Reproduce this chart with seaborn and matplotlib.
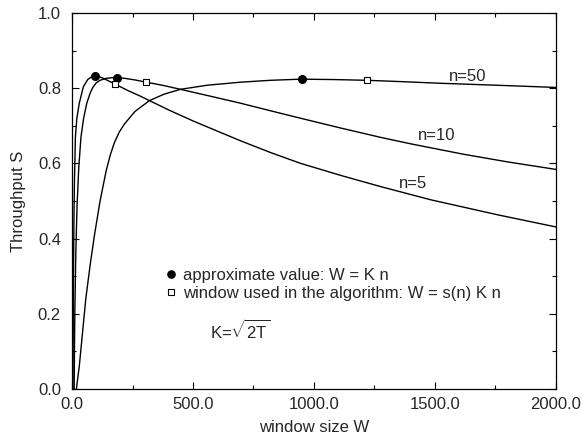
import numpy as np
import pandas as pd
import matplotlib
matplotlib.use('Agg')
import matplotlib.pyplot as plt
import seaborn as sns
from matplotlib.lines import Line2D
from matplotlib.ticker import MultipleLocator, FormatStrFormatter

# values
w_n5 = [4, 5, 6, 8, 10, 14, 20, 30, 47, 65, 80, 93, 110, 130, 178, 230, 282, 320,
        400, 500, 600, 697, 820, 945, 1111, 1277, 1484, 1761, 2000]
s_n5 = [0.0, 0.15, 0.3, 0.45, 0.55, 0.67, 0.72, 0.76, 0.804, 0.823, 0.83, 0.832,
        0.831, 0.826, 0.811, 0.794, 0.779, 0.767, 0.742, 0.713, 0.686, 0.660,
        0.629, 0.600, 0.568, 0.538, 0.503, 0.463, 0.431]

w_n10 = [9, 10, 12, 16, 21, 28, 37, 48, 61, 75, 86, 100, 116, 140, 165, 188, 220,
         260, 307, 380, 448, 570, 697, 820, 945, 1111, 1277, 1400, 1526, 1621,
         1800, 2000]
s_n10 = [0.0, 0.10, 0.22, 0.37, 0.49, 0.59, 0.67, 0.72, 0.76, 0.787, 0.802, 0.814,
         0.821, 0.826, 0.828, 0.828, 0.826, 0.822, 0.816, 0.807, 0.797, 0.779,
         0.760, 0.740, 0.720, 0.694, 0.669, 0.652, 0.636, 0.624, 0.604, 0.584]

w_n50 = [18, 24, 30, 42, 57, 75, 93, 116, 141, 158, 175, 195, 217, 260, 320, 380,
         448, 560, 697, 820, 945, 1080, 1218, 1380, 1526, 1750, 2000]
s_n50 = [0.0, 0.03, 0.06, 0.14, 0.24, 0.33, 0.41, 0.50, 0.58, 0.622, 0.655, 0.683,
         0.705, 0.738, 0.767, 0.784, 0.797, 0.808, 0.816, 0.821, 0.824, 0.823,
         0.821, 0.817, 0.813, 0.808, 0.802]

# W = K n (filled circles) and W = s(n) K n (open squares)
circle_w = [93, 188, 949]
circle_s = [0.832, 0.828, 0.824]
square_w = [178, 307, 1218]
square_s = [0.811, 0.816, 0.821]

curve_names = ['n=5', 'n=10', 'n=50']
label_w = [1408, 1509, 1636]
label_s = [0.547, 0.673, 0.832]

sns.set_style('ticks')
plt.rcParams['font.family'] = ['Liberation Sans', 'DejaVu Sans']
plt.rcParams['mathtext.fontset'] = 'custom'
plt.rcParams['mathtext.rm'] = 'Liberation Sans'
plt.rcParams['mathtext.it'] = 'Liberation Sans'

FS = 12

fig, ax = plt.subplots(figsize=(5.84, 4.42), dpi=100)
fig.subplots_adjust(left=0.1233, right=0.952, bottom=0.1199, top=0.9706)

for w, s in [(w_n5, s_n5), (w_n10, s_n10), (w_n50, s_n50)]:
    df = pd.DataFrame({'W': w, 'S': s})
    sns.lineplot(data=df, x='W', y='S', color='black', linewidth=1.0,
                 sort=False, estimator=None, ax=ax)

ax.plot(circle_w, circle_s, 'o', color='black', markersize=5.5, zorder=5)
ax.plot(square_w, square_s, 's', markerfacecolor='white', markeredgecolor='black',
        markeredgewidth=0.8, markersize=4.2, zorder=5)

for name, x, y in zip(curve_names, label_w, label_s):
    ax.text(x, y, name, fontsize=FS, ha='center', va='center')

ax.set_xlim(0, 2000)
ax.set_ylim(0, 1)
ax.xaxis.set_major_locator(MultipleLocator(500))
ax.xaxis.set_minor_locator(MultipleLocator(250))
ax.yaxis.set_major_locator(MultipleLocator(0.2))
ax.yaxis.set_minor_locator(MultipleLocator(0.1))
ax.xaxis.set_major_formatter(FormatStrFormatter('%.1f'))
ax.yaxis.set_major_formatter(FormatStrFormatter('%.1f'))
ax.tick_params(which='both', direction='in', top=True, right=True, width=0.8,
               color='black', labelsize=FS)
ax.tick_params(which='major', length=5)
ax.tick_params(which='minor', length=3)
ax.tick_params(axis='x', pad=5.5)
ax.tick_params(axis='y', pad=8)
for sp in ax.spines.values():
    sp.set_linewidth(0.9)
    sp.set_color('black')

ax.set_xlabel('window size W', fontsize=FS, labelpad=6)
ax.set_ylabel('Throughput S', fontsize=FS, labelpad=8.5)

handles = [
    Line2D([], [], marker='o', linestyle='none', color='black', markersize=5.2),
    Line2D([], [], marker='s', linestyle='none', markerfacecolor='white',
           markeredgecolor='black', markeredgewidth=0.8, markersize=4),
]
ax.legend(handles, ['approximate value: W = K n',
                    'window used in the algorithm: W = s(n) K n'],
          loc='center left', bbox_to_anchor=(0.194, 0.279), frameon=False,
          fontsize=FS, handlelength=0.6, handletextpad=0.42, borderpad=0,
          borderaxespad=0, labelspacing=0.17)

ax.text(0.285, 0.132, r'K=$\sqrt{2\mathrm{T}}$', transform=ax.transAxes,
        fontsize=FS, va='baseline', ha='left')

fig.savefig('out.png', dpi=100)
